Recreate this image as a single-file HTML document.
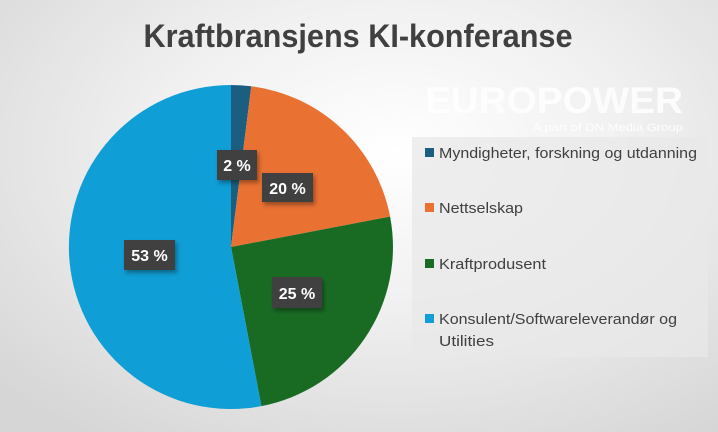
<!DOCTYPE html>
<html><head><meta charset="utf-8"><style>
html,body{margin:0;padding:0}
body{width:718px;height:432px;overflow:hidden;background:radial-gradient(ellipse 75% 80% at 55% 35%,#ffffff 0%,#f0f0f0 45%,#d6d6d6 100%);font-family:"Liberation Sans",sans-serif}
</style></head><body>
<svg width="718" height="432" xmlns="http://www.w3.org/2000/svg" style="position:absolute;left:0;top:0">
<defs>
<filter id="sh" x="-20%" y="-20%" width="150%" height="150%"><feDropShadow dx="2" dy="3" stdDeviation="2" flood-color="#000" flood-opacity="0.35"/></filter>
</defs>
<text x="358" y="47" text-anchor="middle" font-family="Liberation Sans" font-weight="bold" font-size="32" fill="#404040" textLength="429" lengthAdjust="spacingAndGlyphs">Kraftbransjens KI-konferanse</text>
<rect x="412" y="137" width="296" height="220" fill="#e8e8e8" opacity="0.75"/>
<text x="425" y="113" font-family="Liberation Sans" font-weight="bold" font-size="37" fill="#ffffff" opacity="0.85" textLength="258" lengthAdjust="spacingAndGlyphs">EUROPOWER</text>
<text x="533" y="131" font-family="Liberation Sans" font-size="11" fill="#ffffff" opacity="0.9" textLength="150" lengthAdjust="spacingAndGlyphs">A part of DN Media Group</text>
<g>
<path d="M231,247 L231,85 A162,162 0 0 1 251.3,86.3 Z" fill="#1a5e80"/>
<path d="M231,247 L251.3,86.3 A162,162 0 0 1 390.1,216.6 Z" fill="#e97132"/>
<path d="M231,247 L390.1,216.6 A162,162 0 0 1 261.4,406.1 Z" fill="#196b24"/>
<path d="M231,247 L261.4,406.1 A162,162 0 1 1 231,85 Z" fill="#0f9ed5"/>
</g>
<g font-family="Liberation Sans" font-weight="bold" font-size="16" fill="#fff" text-anchor="middle">
<rect x="217" y="150" width="40" height="30" fill="#404040" filter="url(#sh)"/><text x="237" y="171">2 %</text>
<rect x="262" y="173" width="51" height="29" fill="#404040" filter="url(#sh)"/><text x="287.5" y="194">20 %</text>
<rect x="272" y="277" width="50" height="31" fill="#404040" filter="url(#sh)"/><text x="297" y="299">25 %</text>
<rect x="124" y="240" width="51" height="30" fill="#404040" filter="url(#sh)"/><text x="149.5" y="261">53 %</text>
</g>
<g font-family="Liberation Sans" font-size="15" fill="#404040" lengthAdjust="spacingAndGlyphs">
<rect x="425" y="148" width="9" height="9" fill="#1a5e80"/><text x="439" y="158" textLength="258" lengthAdjust="spacingAndGlyphs">Myndigheter, forskning og utdanning</text>
<rect x="425" y="203" width="9" height="9" fill="#e97132"/><text x="439" y="213" textLength="84" lengthAdjust="spacingAndGlyphs">Nettselskap</text>
<rect x="425" y="259" width="9" height="9" fill="#196b24"/><text x="439" y="269" textLength="107" lengthAdjust="spacingAndGlyphs">Kraftprodusent</text>
<rect x="425" y="314" width="9" height="9" fill="#0f9ed5"/><text x="439" y="324" textLength="238" lengthAdjust="spacingAndGlyphs">Konsulent/Softwareleverandør og</text>
<text x="439" y="346" textLength="55" lengthAdjust="spacingAndGlyphs">Utilities</text>
</g>
</svg>
</body></html>
